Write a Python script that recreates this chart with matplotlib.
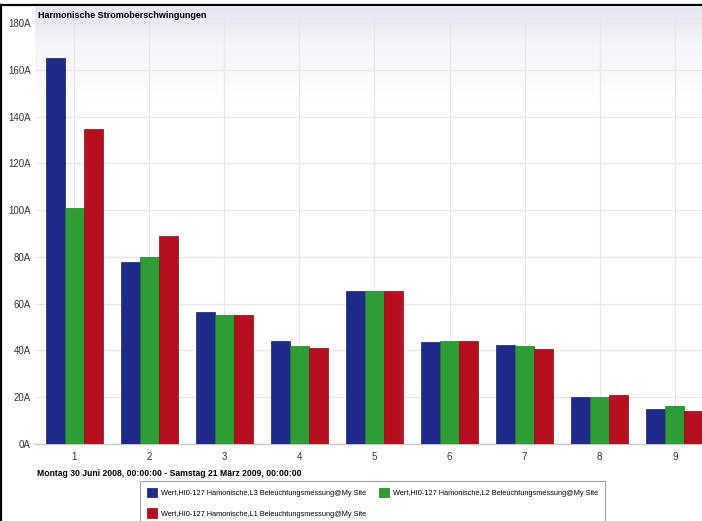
import numpy as np
import matplotlib
matplotlib.use('Agg')
import matplotlib.pyplot as plt
from matplotlib.lines import Line2D
from matplotlib.colors import LinearSegmentedColormap

plt.rcParams['font.family'] = ['Liberation Sans', 'DejaVu Sans']

###########################
# data
###########################
harmonics = ['1', '2', '3', '4', '5', '6', '7', '8', '9']
l3_vals = [165.0, 77.8, 56.4, 44.0, 65.4, 43.5, 42.5, 20.2, 14.8]
l2_vals = [100.9, 80.0, 55.2, 41.9, 65.4, 44.2, 41.9, 20.2, 16.2]
l1_vals = [134.7, 88.9, 55.2, 41.0, 65.4, 43.9, 40.5, 20.9, 14.1]
y_ticks = [0, 20, 40, 60, 80, 100, 120, 140, 160, 180]

label_l3 = 'Wert,HI0-127 Hamonische,L3 Beleuchtungsmessung@My Site'
label_l2 = 'Wert,HI0-127 Hamonische,L2 Beleuchtungsmessung@My Site'
label_l1 = 'Wert,HI0-127 Hamonische,L1 Beleuchtungsmessung@My Site'
title = 'Harmonische Stromoberschwingungen'
period = 'Montag 30 Juni 2008, 00:00:00 - Samstag 21 März 2009, 00:00:00'

c_blue = '#1e2a88'
c_green = '#2f9d35'
c_red = '#b50f1f'

W, H = 702, 521
fig = plt.figure(figsize=(W / 100, H / 100), dpi=100)

# axes in pixel terms: x 35..712, y (0A) at 444, 187A at ~7
x_lo, x_hi = 0.48, 9.5
px_per_unit = 75.1
ax_w = (x_hi - x_lo) * px_per_unit
y_top = 187
px_per_amp = 2.339
ax_h = y_top * px_per_amp
ax = fig.add_axes([35 / W, 1 - 444 / H, ax_w / W, ax_h / H])

# soft lavender band at the top of the plot area, fading to white
grad = np.linspace(0, 1, 256).reshape(-1, 1)
cmap = LinearSegmentedColormap.from_list(
    'bg', [(0, '#ffffff'), (0.78, '#ffffff'), (0.92, '#f4f4fa'), (0.97, '#eaeaf5'), (1, '#e6e6f3')])
ax.imshow(grad, aspect='auto', cmap=cmap, origin='lower',
          extent=[x_lo, x_hi, 0, y_top], zorder=0)

x = np.arange(1, len(harmonics) + 1)
w = 0.253
ax.bar(x - w, l3_vals, w, color=c_blue, edgecolor='#17206a', linewidth=0.5, label=label_l3, zorder=3)
ax.bar(x, l2_vals, w, color=c_green, edgecolor='#1f7a25', linewidth=0.5, label=label_l2, zorder=3)
ax.bar(x + w, l1_vals, w, color=c_red, edgecolor='#8c0a16', linewidth=0.5, label=label_l1, zorder=3)

ax.set_xlim(x_lo, x_hi)
ax.set_ylim(0, y_top)
ax.set_xticks(x)
ax.set_xticklabels(harmonics)
ax.set_yticks(y_ticks)
ax.set_yticklabels(['{0}A'.format(v) for v in y_ticks])
ax.tick_params(length=0, labelsize=7, colors='#333333')
ax.tick_params(axis='y', pad=3)
ax.tick_params(axis='x', pad=6)
ax.grid(True, color='#e8e8ec', linewidth=0.9, zorder=1)
ax.set_axisbelow(True)
for s in ['top', 'right', 'left']:
    ax.spines[s].set_visible(False)
ax.spines['bottom'].set_color('#c8c8c8')
ax.spines['bottom'].set_linewidth(1.0)

fig.text(38 / W, 1 - 15 / H, title, fontsize=6.5, fontweight='bold', va='center', ha='left')
fig.text(37 / W, 1 - 474 / H, period, fontsize=6.2, fontweight='bold', va='center', ha='left')

# legend: columns L3/L1 then L2
h, l = ax.get_legend_handles_labels()
order = [0, 2, 1]
leg = fig.legend([h[i] for i in order], [l[i] for i in order], ncol=2,
                 loc='upper left', bbox_to_anchor=(140 / W, 1 - 481 / H),
                 fontsize=5.3, frameon=True, fancybox=False, edgecolor='#888888',
                 handlelength=1.35, handleheight=1.6, handletextpad=0.6,
                 labelspacing=1.55, columnspacing=1.7, borderpad=0.9, borderaxespad=0)
leg.get_frame().set_linewidth(0.8)

# black frame at top and left of the screenshot
fig.add_artist(Line2D([1 / W, 1], [1 - 5 / H, 1 - 5 / H], color='black', linewidth=1.6))
fig.add_artist(Line2D([1.2 / W, 1.2 / W], [0, 1 - 5 / H], color='black', linewidth=1.6))

fig.savefig('out.png', dpi=100)
